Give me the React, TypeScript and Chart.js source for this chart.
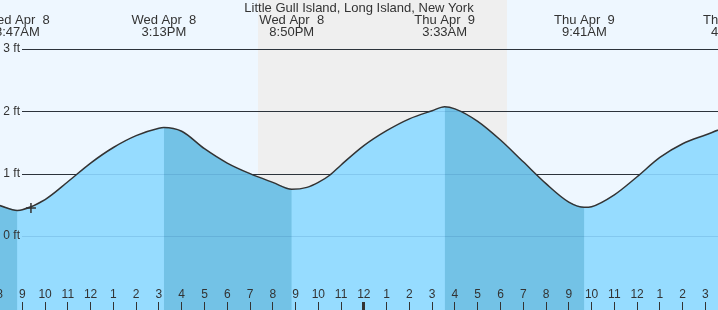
import React, { useEffect, useRef } from "react";
import { Chart, registerables } from "chart.js";

Chart.register(...registerables);

const TITLE = "Little Gull Island, Long Island, New York";

// hours from Apr 8 00:00
const tideHours = [8, 8.783, 9, 10, 11, 12, 13, 14, 15, 15.217, 16, 17, 18, 19, 20, 20.833, 21.5, 22, 22.5, 23, 24, 25, 26, 27, 27.55, 28, 29, 30, 31, 32, 33, 33.683, 34, 35, 36, 37, 38, 39, 40, 40.23, 41];
const tideFeet = [0.49, 0.41, 0.42, 0.585, 0.87, 1.17, 1.42, 1.61, 1.73, 1.74, 1.68, 1.4, 1.17, 1.0, 0.86, 0.75, 0.78, 0.86, 0.975, 1.14, 1.45, 1.69, 1.88, 2.01, 2.075, 2.04, 1.84, 1.54, 1.19, 0.84, 0.545, 0.46, 0.47, 0.66, 0.95, 1.26, 1.48, 1.62, 1.75, 1.76, 1.7];

const extremeHours = [8.783, 15.217, 20.833, 27.55, 33.683, 40.23];
const extremeDays = ["Wed Apr  8", "Wed Apr  8", "Wed Apr  8", "Thu Apr  9", "Thu Apr  9", "Thu Apr  9"];
const extremeClock = ["8:47AM", "3:13PM", "8:50PM", "3:33AM", "9:41AM", "4:14PM"];
const extremeIsHigh = [false, true, false, true, false, true];

const nightStart = 19.364;
const nightEnd = 30.287;

const hourTicks = [8, 9, 10, 11, 12, 13, 14, 15, 16, 17, 18, 19, 20, 21, 22, 23, 24, 25, 26, 27, 28, 29, 30, 31, 32, 33, 34, 35, 36, 37, 38, 39];
const hourLabels = ["8", "9", "10", "11", "12", "1", "2", "3", "4", "5", "6", "7", "8", "9", "10", "11", "12", "1", "2", "3", "4", "5", "6", "7", "8", "9", "10", "11", "12", "1", "2", "3"];

const feetTicks = [0, 1, 2, 3];
const feetLabels = ["0 ft", "1 ft", "2 ft", "3 ft"];

const nowHour = [9.38];
const nowFeet = [0.45];

const FONT_SMALL = "12px 'Liberation Sans', Arial, sans-serif";
const FONT_TOP = "13px 'Liberation Sans', Arial, sans-serif";
const TEXT = "#333333";

function isFalling(h: number): boolean {
  if (h <= extremeHours[0]) return true;
  for (let i = 0; i < extremeHours.length; i++) {
    if (extremeIsHigh[i] && i + 1 < extremeHours.length) {
      if (h >= extremeHours[i] && h <= extremeHours[i + 1]) return true;
    }
  }
  return false;
}

const decorPlugin = {
  id: "decor",
  beforeDatasetsDraw(chart: any) {
    const { ctx, chartArea } = chart;
    const xs = chart.scales.x;
    const ys = chart.scales.y;
    ctx.save();
    ctx.fillStyle = "#eef7ff";
    ctx.fillRect(chartArea.left, chartArea.top, chartArea.right - chartArea.left, chartArea.bottom - chartArea.top);
    const n0 = xs.getPixelForValue(nightStart);
    const n1 = xs.getPixelForValue(nightEnd);
    ctx.fillStyle = "#efefef";
    ctx.fillRect(Math.round(n0), chartArea.top, Math.round(n1 - n0), chartArea.bottom - chartArea.top);
    ctx.strokeStyle = "#333333";
    ctx.lineWidth = 1;
    feetTicks.forEach((v) => {
      const y = Math.round(ys.getPixelForValue(v)) + 0.5;
      ctx.beginPath();
      ctx.moveTo(22, y);
      ctx.lineTo(chartArea.right, y);
      ctx.stroke();
    });
    ctx.restore();
  },
  afterDatasetsDraw(chart: any) {
    const { ctx, chartArea } = chart;
    const xs = chart.scales.x;
    const ys = chart.scales.y;
    ctx.save();
    ctx.strokeStyle = "rgba(0,60,120,0.12)";
    ctx.lineWidth = 1;
    feetTicks.forEach((v) => {
      const y = Math.round(ys.getPixelForValue(v)) + 0.5;
      ctx.beginPath();
      ctx.moveTo(22, y);
      ctx.lineTo(chartArea.right, y);
      ctx.stroke();
    });
    ctx.font = FONT_SMALL;
    ctx.fillStyle = TEXT;
    ctx.textAlign = "right";
    ctx.textBaseline = "middle";
    feetTicks.forEach((v, i) => {
      ctx.fillText(feetLabels[i], 20, ys.getPixelForValue(v));
    });
    ctx.textAlign = "center";
    hourTicks.forEach((h, i) => {
      const x = xs.getPixelForValue(h);
      ctx.fillText(hourLabels[i], x, 295);
      const w = h === 24 ? 3 : 1;
      ctx.fillRect(Math.round(x - w / 2), 302, w, 8);
    });
    ctx.font = FONT_TOP;
    ctx.fillText(TITLE, 359, 8);
    extremeHours.forEach((h, i) => {
      const x = xs.getPixelForValue(h);
      ctx.fillText(extremeDays[i], x, 20);
      ctx.fillText(extremeClock[i], x, 32);
    });
    ctx.restore();
  },
};

export default function App() {
  const ref = useRef<HTMLCanvasElement | null>(null);
  useEffect(() => {
    document.body.style.margin = "0";
    if (!ref.current) return;
    const pts = tideHours.map((h, i) => ({ x: h, y: tideFeet[i] }));
    const fallingPts = tideHours.map((h, i) => ({ x: h, y: isFalling(h) ? tideFeet[i] : null }));
    const chart = new Chart(ref.current, {
      type: "line",
      data: {
        datasets: [
          {
            type: "line",
            data: pts,
            borderColor: "#333333",
            borderWidth: 1.5,
            pointRadius: 0,
            cubicInterpolationMode: "monotone",
            fill: false,
            order: 1,
          } as any,
          {
            type: "line",
            data: fallingPts,
            borderWidth: 0,
            borderColor: "rgba(0,0,0,0)",
            pointRadius: 0,
            cubicInterpolationMode: "monotone",
            spanGaps: false,
            fill: "start",
            backgroundColor: "#73c2e6",
            order: 2,
          } as any,
          {
            type: "line",
            data: pts,
            borderWidth: 0,
            borderColor: "rgba(0,0,0,0)",
            pointRadius: 0,
            cubicInterpolationMode: "monotone",
            fill: "start",
            backgroundColor: "#96dcff",
            order: 3,
          } as any,
          {
            type: "scatter",
            data: nowHour.map((h, i) => ({ x: h, y: nowFeet[i] })),
            pointStyle: "cross",
            pointRadius: 5,
            borderColor: "#333333",
            borderWidth: 1.5,
            order: 0,
          } as any,
        ],
      },
      options: {
        animation: false,
        responsive: false,
        maintainAspectRatio: false,
        layout: { padding: 0, autoPadding: false },
        plugins: { legend: { display: false }, tooltip: { enabled: false }, title: { display: false } },
        events: [],
        scales: {
          x: { type: "linear", min: 8.0206, max: 39.553, display: false },
          y: { type: "linear", min: -1.187, max: 3.786, display: false },
        },
      },
      plugins: [decorPlugin],
    });
    return () => chart.destroy();
  }, []);
  return (
    <div style={{ width: 718, height: 310 }}>
      <canvas ref={ref} width={718} height={310} style={{ display: "block" }} />
    </div>
  );
}
